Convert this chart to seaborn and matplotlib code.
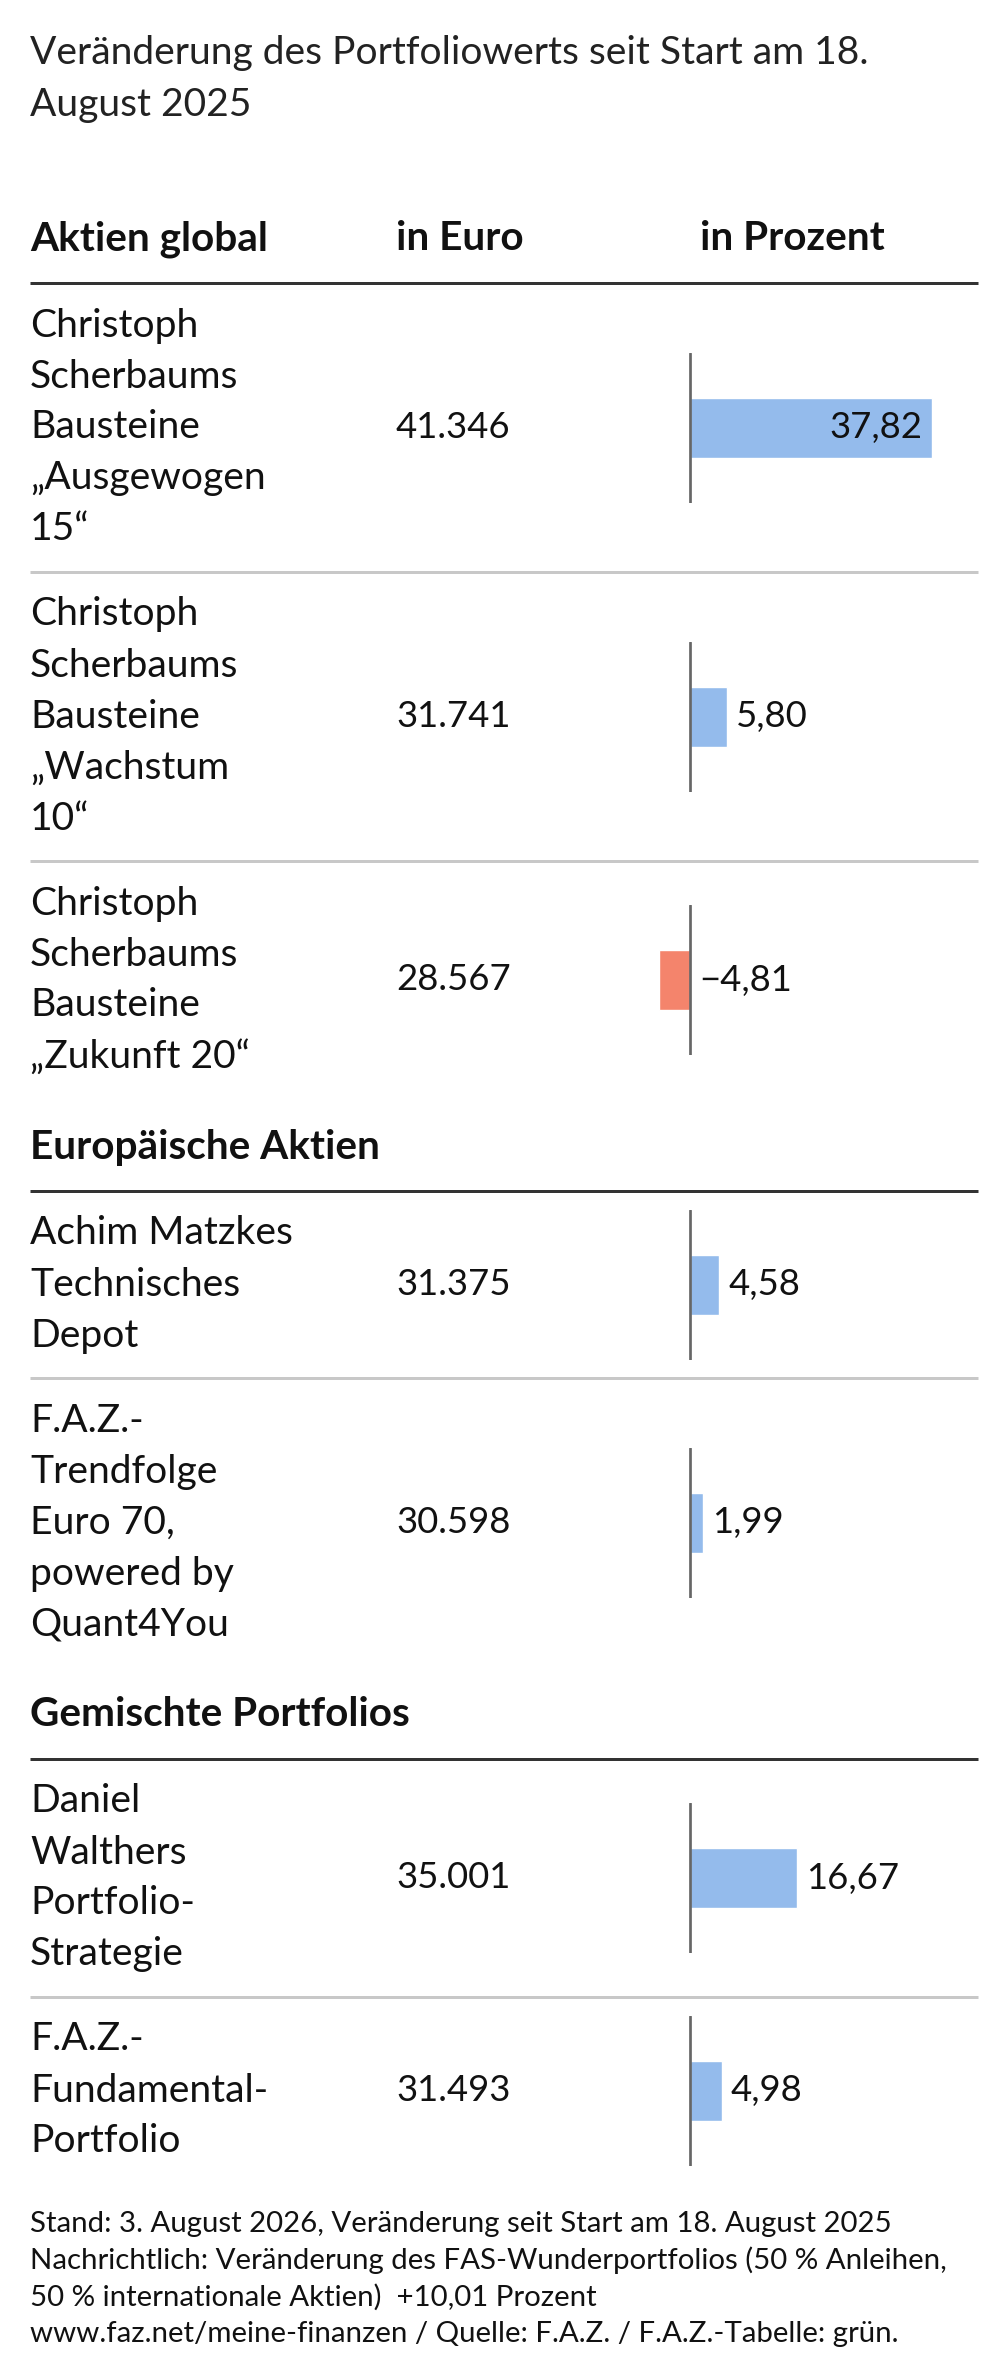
import matplotlib
matplotlib.use("Agg")
import matplotlib.pyplot as plt
import seaborn as sns

# ---------------- data ----------------
title_lines = ["Veränderung des Portfoliowerts seit Start am 18.", "August 2025"]
col_headers = ["in Euro", "in Prozent"]
sections = ["Aktien global", "Europäische Aktien", "Gemischte Portfolios"]
section_of_row = [0, 0, 0, 1, 1, 2, 2]
names = [
    "Christoph\nScherbaums\nBausteine\n„Ausgewogen\n15“",
    "Christoph\nScherbaums\nBausteine\n„Wachstum\n10“",
    "Christoph\nScherbaums\nBausteine\n„Zukunft 20“",
    "Achim Matzkes\nTechnisches\nDepot",
    "F.A.Z.-\nTrendfolge\nEuro 70,\npowered by\nQuant4You",
    "Daniel\nWalthers\nPortfolio-\nStrategie",
    "F.A.Z.-\nFundamental-\nPortfolio",
]
euro_values = [41346, 31741, 28567, 31375, 30598, 35001, 31493]
pct_values = [37.82, 5.80, -4.81, 4.58, 1.99, 16.67, 4.98]
footer_lines = [
    "Stand: 3. August 2026, Veränderung seit Start am 18. August 2025",
    "Nachrichtlich: Veränderung des FAS-Wunderportfolios (50 % Anleihen,",
    "50 % internationale Aktien)  +10,01 Prozent",
    "www.faz.net/meine-finanzen / Quelle: F.A.Z. / F.A.Z.-Tabelle: grün.",
]

# ---------------- style ----------------
sns.set_theme(style="white")
plt.rcParams["font.family"] = ["Lato", "DejaVu Sans"]

W, H = 1005, 2379
DPI = 100
PT = 72 / DPI  # points per pixel

POS_COL = "#94bbec"
NEG_COL = "#f4846c"
TXT = "#111111"

fig = plt.figure(figsize=(W / DPI, H / DPI), dpi=DPI)
fig.patch.set_facecolor("white")


def fx(x):
    return x / W


def fy(y):
    return 1 - y / H


BODY = 39 * PT
NUM = 36.5 * PT
BOLD = 40.5 * PT
FOOT = 29.4 * PT
LINE_H = 51
X_NAME, X_EURO, X_PCT = 30, 396, 700
X_RIGHT = 978
ZERO_X = 690
PX_PER_PCT = 6.4
BAR_AX_L, BAR_AX_R = 600, 1000
BAR_AX_H = 150


def hline(y, color, lw_px):
    fig.add_artist(plt.Line2D([fx(X_NAME), fx(X_RIGHT)], [fy(y), fy(y)],
                              color=color, lw=lw_px * PT, solid_capstyle="butt"))


# title
for i, t in enumerate(title_lines):
    fig.text(fx(X_NAME), fy(53 + i * 52), t, fontsize=BODY, color="#222222",
             va="center", ha="left")


def fmt_euro(v):
    return f"{v:,}".replace(",", ".")


def fmt_pct(v):
    return f"{v:.2f}".replace(".", ",").replace("-", "\u2212")


y = 239  # first section header center
prev_section = None
row_end = None
for r, (name, ev, pv) in enumerate(zip(names, euro_values, pct_values)):
    sec = section_of_row[r]
    if sec != prev_section:
        if prev_section is not None:
            y = row_end + 48
        fig.text(fx(X_NAME), fy(y), sections[sec], fontsize=BOLD, fontweight="bold",
                 color=TXT, va="center", ha="left")
        if sec == 0:
            for hx, ht in zip([X_EURO, X_PCT], col_headers):
                fig.text(fx(hx), fy(y), ht, fontsize=BOLD, fontweight="bold",
                         color=TXT, va="center", ha="left")
        thick_y = y + 44
        hline(thick_y, "#333333", 3)
        start = thick_y
        prev_section = sec
    else:
        hline(row_end, "#c8c8c8", 3)
        start = row_end

    lines = name.split("\n")
    n = len(lines)
    row_h = n * LINE_H + 34
    center = start + row_h / 2
    for i, ln in enumerate(lines):
        ly = center + (i - (n - 1) / 2) * LINE_H
        fig.text(fx(X_NAME), fy(ly), ln, fontsize=BODY, color=TXT,
                 va="center", ha="left")
    fig.text(fx(X_EURO), fy(center), fmt_euro(ev), fontsize=NUM, color=TXT,
             va="center", ha="left")

    # bar axis
    ax = fig.add_axes([fx(BAR_AX_L), fy(center + BAR_AX_H / 2),
                       (BAR_AX_R - BAR_AX_L) / W, BAR_AX_H / H])
    sns.barplot(x=[pv], y=["r"], orient="h", color=POS_COL if pv >= 0 else NEG_COL,
                width=0.4, saturation=1, ax=ax)
    ax.set_xlim((BAR_AX_L - ZERO_X) / PX_PER_PCT, (BAR_AX_R - ZERO_X) / PX_PER_PCT)
    ax.set_ylim(0.5, -0.5)
    ax.axvline(0, color="#666666", lw=2.7 * PT, zorder=5)
    ax.axis("off")
    off = 9 / PX_PER_PCT
    if pv * PX_PER_PCT > 150:
        ax.text(pv - 10 / PX_PER_PCT, 0, fmt_pct(pv), ha="right", va="center",
                fontsize=NUM, color=TXT, zorder=6)
    else:
        ax.text(max(pv, 0) + off, 0, fmt_pct(pv), ha="left", va="center",
                fontsize=NUM, color=TXT, zorder=6)
    row_end = start + row_h

# footer
for i, t in enumerate(footer_lines):
    fig.text(fx(X_NAME), fy(row_end + 40 + i * 36.6), t, fontsize=FOOT, color=TXT,
             va="center", ha="left")

fig.savefig("out.png", dpi=DPI, facecolor="white")
